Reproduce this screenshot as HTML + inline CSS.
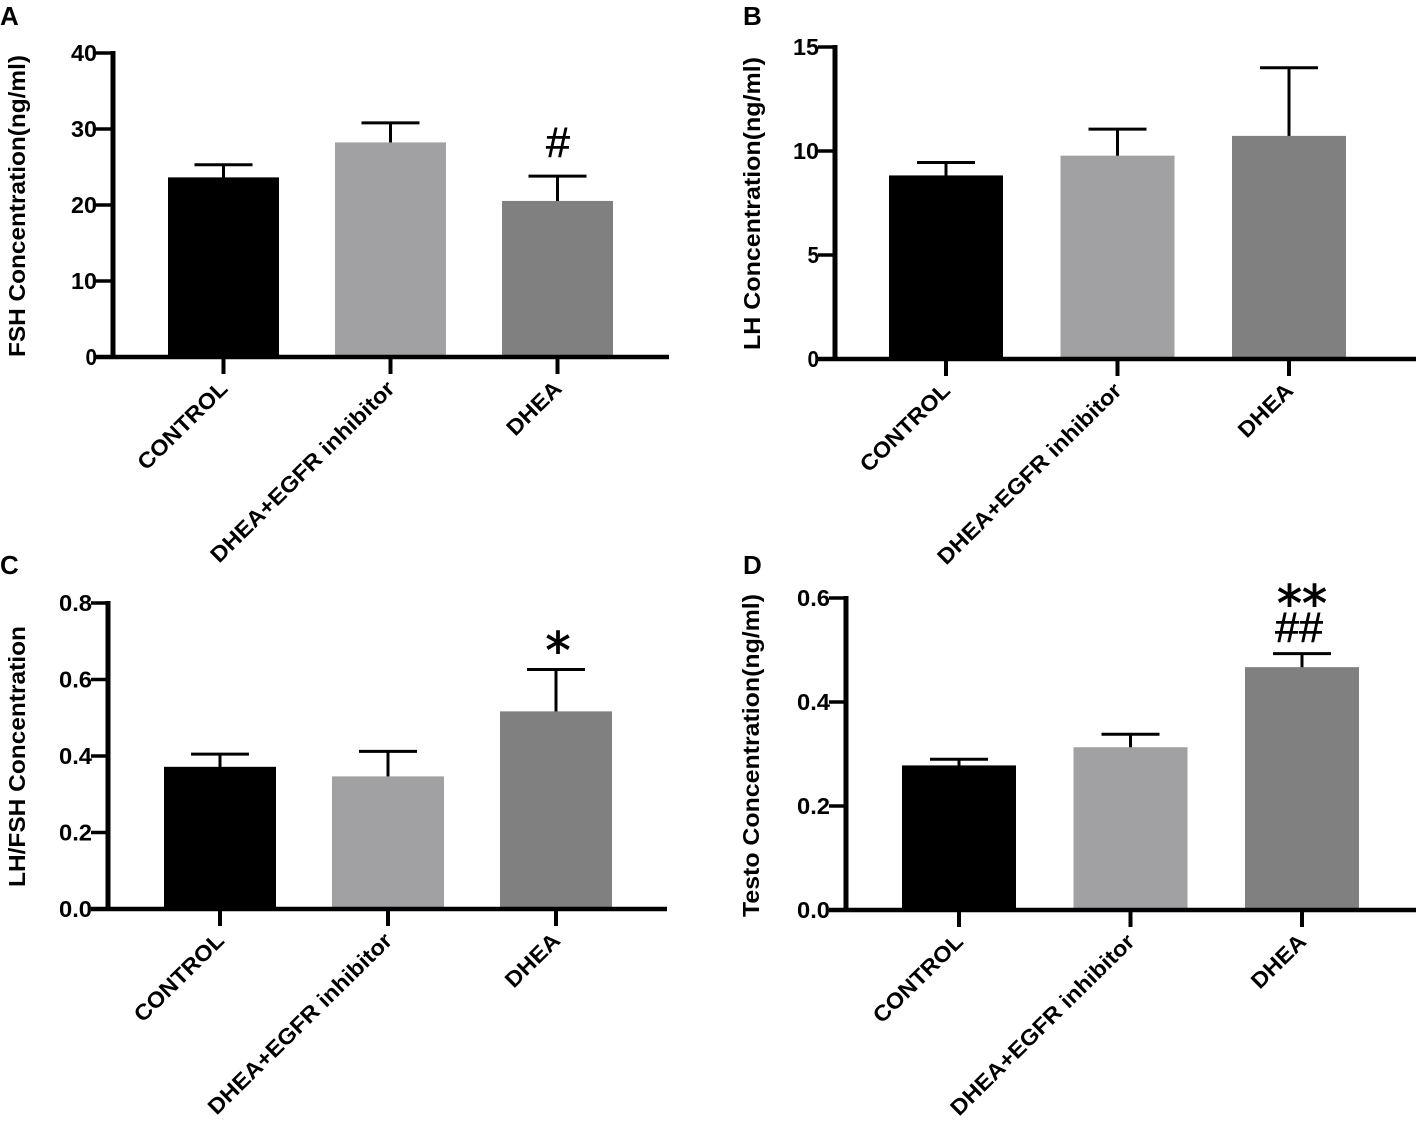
<!DOCTYPE html>
<html lang="en">
<head>
<meta charset="utf-8">
<title>Hormone concentration bar charts</title>
<style>
html,body{margin:0;padding:0;background:#fff;}
svg{display:block;}
text{font-family:"Liberation Sans",sans-serif;font-weight:bold;fill:#000;}
</style>
</head>
<body>
<svg id="figure" xmlns="http://www.w3.org/2000/svg" width="1418" height="1122" viewBox="0 0 1418 1122"></svg>
<script>
var categories = ["CONTROL", "DHEA+EGFR inhibitor", "DHEA"];

var fshValues = [23.7, 28.3, 20.6];
var fshErrorTops = [25.3, 30.8, 23.8];
var fshTicks = [0, 10, 20, 30, 40];
var fshTickLabels = ["0", "10", "20", "30", "40"];

var lhValues = [8.85, 9.8, 10.75];
var lhErrorTops = [9.45, 11.05, 14.0];
var lhTicks = [0, 5, 10, 15];
var lhTickLabels = ["0", "5", "10", "15"];

var ratioValues = [0.373, 0.348, 0.518];
var ratioErrorTops = [0.405, 0.412, 0.626];
var ratioTicks = [0, 0.2, 0.4, 0.6, 0.8];
var ratioTickLabels = ["0.0", "0.2", "0.4", "0.6", "0.8"];

var testoValues = [0.279, 0.314, 0.468];
var testoErrorTops = [0.29, 0.338, 0.493];
var testoTicks = [0, 0.2, 0.4, 0.6];
var testoTickLabels = ["0.0", "0.2", "0.4", "0.6"];

var barFills = ["#000000", "#a1a1a4", "#808080"];

var svg = document.getElementById('figure');

function make(tag, attrs, parent, content) {
  var el = document.createElementNS('http://www.w3.org/2000/svg', tag);
  for (var k in attrs) { el.setAttribute(k, attrs[k]); }
  if (content !== undefined) { el.textContent = content; }
  parent.appendChild(el);
  return el;
}

function drawPanel(p) {
  var group = make('g', {}, svg);
  
  

  function yScale(v) { return p.y0 + (p.yTop - p.y0) * v / p.yMax; }
  function xCenter(i) { return p.firstCenter + i * p.step; }

  var letter = make('text', {x: p.letterX, y: p.letterY, 'font-size': 26}, group, p.letter);
  
  

  var title = make('text', {
    transform: 'translate(' + p.titleX + ',' + p.titleBottom + ') rotate(-90)',
    'font-size': 23, textLength: p.titleLength, lengthAdjust: 'spacingAndGlyphs'
  }, group, p.title);
  
  

  p.values.forEach(function (v, i) {
    var cx = xCenter(i);
    var top = yScale(p.errors[i]);
    var barTop = yScale(v);

    var stem = make('line', {x1: cx, x2: cx, y1: top, y2: barTop + 2, stroke: '#000', 'stroke-width': 3}, group);
    
    

    var cap = make('line', {x1: cx - 29, x2: cx + 29, y1: top, y2: top, stroke: '#000', 'stroke-width': 3}, group);
    
    

    var bar = make('rect', {x: cx - p.barWidth / 2, y: barTop + 0.5, width: p.barWidth, height: p.y0 - barTop - 0.5, fill: barFills[i]}, group);
    
    

    var tick = make('line', {x1: cx, x2: cx, y1: p.y0, y2: p.y0 + 17, stroke: '#000', 'stroke-width': 4}, group);
    
    

    var label = make('text', {
      transform: 'translate(' + (cx + 5.5) + ',' + (p.y0 + 33) + ') rotate(-44.5)',
      'text-anchor': 'end', 'font-size': 22,
      textLength: i === 0 ? 116 : (i === 1 ? 248 : 67), lengthAdjust: 'spacingAndGlyphs'
    }, group, categories[i]);
    
    
  });

  var yAxis = make('line', {x1: p.axisX, x2: p.axisX, y1: yScale(p.yMax) - 2, y2: p.y0, stroke: '#000', 'stroke-width': 5}, group);
  
  

  var xAxis = make('line', {x1: p.axisX - 17, x2: p.axisEnd, y1: p.y0, y2: p.y0, stroke: '#000', 'stroke-width': 4.5}, group);
  
  

  p.ticks.forEach(function (t, i) {
    var y = yScale(t);
    var tick = make('line', {x1: p.axisX - 17, x2: p.axisX, y1: y, y2: y, stroke: '#000', 'stroke-width': 3.5}, group);
    
    

    var label = make('text', {x: p.axisX - 16, y: y + 8, 'text-anchor': 'end', 'font-size': 23, textLength: p.tickLabels[i].length === 1 ? 11.5 : (p.tickLabels[i].length === 2 ? 26 : 33), lengthAdjust: 'spacingAndGlyphs'}, group, p.tickLabels[i]);
    
    
  });

  p.marks.forEach(function (m) {
    var mark = make('text', {x: m.x, y: m.y, 'text-anchor': 'middle', 'font-size': m.size, stroke: '#000', 'stroke-width': m.outline, style: 'font-weight:' + m.weight + ';font-family:' + m.family}, group, m.text);
    
    
  });
}

var sans = '"Liberation Sans",sans-serif';
var deja = '"DejaVu Sans",sans-serif';

drawPanel({
  letter: 'A', letterX: 0, letterY: 25, title: 'FSH Concentration(ng/ml)', titleX: 25, titleBottom: 357, titleLength: 302,
  axisX: 113, axisEnd: 669, y0: 357, yTop: 53, yMax: 40, firstCenter: 223.5, step: 167, barWidth: 111,
  values: fshValues, errors: fshErrorTops, ticks: fshTicks, tickLabels: fshTickLabels,
  marks: [{text: '#', x: 558, y: 157, size: 43, weight: 'normal', outline: 0.6, family: sans}]
});
drawPanel({
  letter: 'B', letterX: 743, letterY: 25, title: 'LH Concentration(ng/ml)', titleX: 760, titleBottom: 350, titleLength: 293,
  axisX: 835, axisEnd: 1416, y0: 359, yTop: 47, yMax: 15, firstCenter: 946, step: 171.5, barWidth: 114,
  values: lhValues, errors: lhErrorTops, ticks: lhTicks, tickLabels: lhTickLabels,
  marks: []
});
drawPanel({
  letter: 'C', letterX: 0, letterY: 574, title: 'LH/FSH Concentration', titleX: 25, titleBottom: 887, titleLength: 261,
  axisX: 108, axisEnd: 667, y0: 909, yTop: 603, yMax: 0.8, firstCenter: 220, step: 168, barWidth: 112,
  values: ratioValues, errors: ratioErrorTops, ticks: ratioTicks, tickLabels: ratioTickLabels,
  marks: [{text: '*', x: 558, y: 668, size: 50, weight: 'normal', outline: 1, family: deja}]
});
drawPanel({
  letter: 'D', letterX: 743, letterY: 574, title: 'Testo Concentration(ng/ml)', titleX: 759, titleBottom: 917, titleLength: 323,
  axisX: 846, axisEnd: 1416, y0: 910, yTop: 598, yMax: 0.6, firstCenter: 959, step: 171.5, barWidth: 114,
  values: testoValues, errors: testoErrorTops, ticks: testoTicks, tickLabels: testoTickLabels,
  marks: [{text: '**', x: 1302, y: 621, size: 50, weight: 'normal', outline: 1, family: deja}, {text: '##', x: 1299, y: 642, size: 43, weight: 'normal', outline: 0.6, family: sans}]
});
</script>
</body>
</html>
